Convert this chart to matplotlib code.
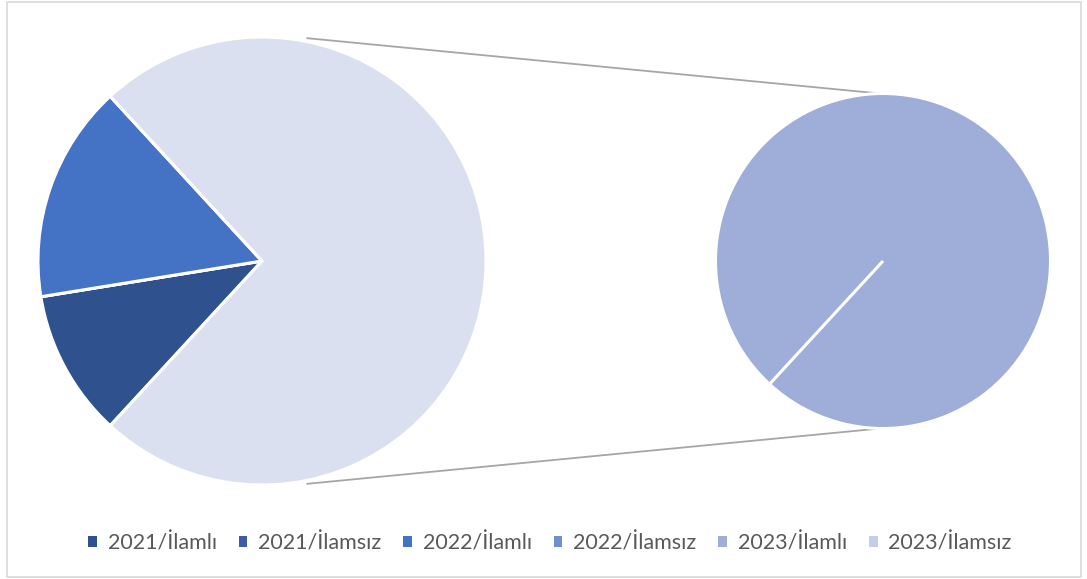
import matplotlib
matplotlib.use("Agg")
import matplotlib.pyplot as plt
from matplotlib.patches import Patch, Rectangle
import numpy as np

plt.rcParams['font.family'] = ['Lato', 'DejaVu Sans']

# ---- data (percent shares) ----
categories = ["2021/İlamlı", "2021/İlamsız", "2022/İlamlı", "2022/İlamsız", "2023/İlamlı", "2023/İlamsız"]
values = [10.6, 0.0, 15.7, 0.0, 73.7, 0.0]
colors = ["#2F528F", "#3A5CAB", "#4472C4", "#6F8FD1", "#9FAED8", "#C5CDE8"]
other_color = "#DAE0F0"

main_vals = values[:4]
second_vals = values[4:]
other_val = sum(second_vals)

W, H = 1087, 579
fig = plt.figure(figsize=(W / 100, H / 100), dpi=100)
ax = fig.add_axes([0, 0, 1, 1])
ax.set_xlim(0, W)
ax.set_ylim(0, H)
ax.set_aspect('equal')
ax.axis('off')

# border
ax.add_patch(Rectangle((7, 2), 1074, 575, fill=False, ec="#D9D9D9", lw=1.2))

# main pie
main_c = (262, H - 261)
main_r = 224
tot = sum(main_vals) + other_val
other_deg = other_val / tot * 360
start = (sum(main_vals) / tot * 360) + other_deg / 2
ax.pie(main_vals + [other_val], colors=colors[:4] + [other_color], startangle=start,
       counterclock=False, center=main_c, radius=main_r, normalize=True,
       wedgeprops=dict(edgecolor="white", linewidth=2.2), frame=True)

# secondary pie
sec_c = (883, H - 261)
sec_r = 167.5
ax.pie(second_vals, colors=colors[4:], startangle=start, counterclock=False,
       center=sec_c, radius=sec_r, normalize=True,
       wedgeprops=dict(edgecolor="white", linewidth=2.2), frame=True)

ax.set_xlim(0, W)
ax.set_ylim(0, H)
ax.axis('off')

# connector lines
a_main = np.deg2rad(78.5)
a_sec = np.deg2rad(91)
for s in (1, -1):
    x0 = main_c[0] + main_r * 1.015 * np.cos(a_main)
    y0 = main_c[1] + s * main_r * 1.015 * np.sin(a_main)
    x1 = sec_c[0] + sec_r * np.cos(a_sec)
    y1 = sec_c[1] + s * sec_r * np.sin(a_sec)
    ax.plot([x0, x1], [y0, y1], color="#A6A6A6", lw=1.3, zorder=0)

handles = [Patch(facecolor=c, edgecolor='none', label=l) for c, l in zip(colors, categories)]
leg = fig.legend(handles=handles, loc='center', bbox_to_anchor=(550 / W, 1 - 543 / H),
                 ncol=6, frameon=False, fontsize=15.5, handlelength=0.4, handleheight=0.4,
                 handletextpad=0.5, columnspacing=1.02, labelcolor="#595959")

fig.savefig("out.png", dpi=100)
